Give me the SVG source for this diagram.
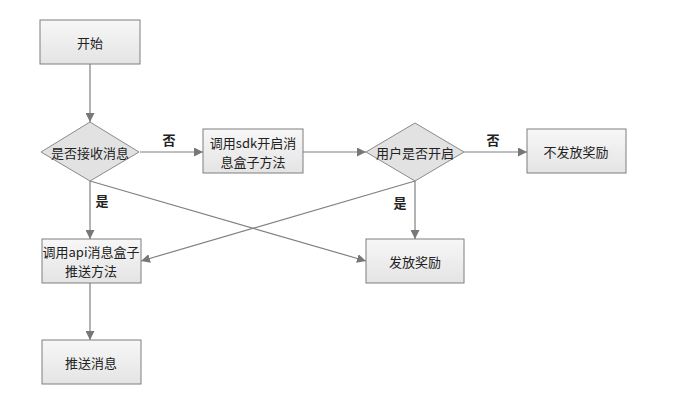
<svg xmlns="http://www.w3.org/2000/svg" width="700" height="409" viewBox="0 0 700 409">
<defs>
<linearGradient id="g" x1="0" y1="0" x2="0" y2="1"><stop offset="0" stop-color="#f7f7f7"/><stop offset="1" stop-color="#e4e4e4"/></linearGradient>
<marker id="a" viewBox="0 0 10 10" refX="10" refY="5" markerWidth="9" markerHeight="9" markerUnits="userSpaceOnUse" orient="auto"><path d="M0,0 L10,5 L0,10 Z" fill="#777"/></marker>
<style>
.box{fill:url(#g);stroke:#7f7f7f;stroke-width:1}
.dia{fill:#e2e2e2;stroke:#8a8a8a;stroke-width:1}
.t{font-family:"Noto Sans CJK SC","Liberation Sans",sans-serif;font-size:13px;fill:#222;text-anchor:middle;dominant-baseline:central}
.l{font-family:"Noto Sans CJK SC","Liberation Sans",sans-serif;font-size:13px;font-weight:bold;fill:#222;text-anchor:middle;dominant-baseline:central}
.c{stroke:#808080;stroke-width:1.2;fill:none;marker-end:url(#a)}
</style>
</defs>
<rect width="700" height="409" fill="#fff"/>
<g id="connectors">
<line class="c" x1="90" y1="64" x2="90" y2="122"/>
<line class="c" x1="140" y1="152" x2="203" y2="152"/>
<line class="c" x1="303" y1="152" x2="366" y2="152"/>
<line class="c" x1="464" y1="152" x2="527" y2="152"/>
<line class="c" x1="90" y1="181" x2="90" y2="239"/>
<line class="c" x1="90" y1="181" x2="366" y2="261"/>
<line class="c" x1="415" y1="181" x2="141" y2="261"/>
<line class="c" x1="415" y1="181" x2="415" y2="239"/>
<line class="c" x1="90" y1="283" x2="90" y2="340"/>
<text class="l" x="169" y="139">否</text>
<text class="l" x="493" y="139">否</text>
<text class="l" x="102" y="200">是</text>
<text class="l" x="400" y="202">是</text>
</g>
<g id="start"><rect class="box" x="40" y="20" width="100" height="44"/><text class="t" x="90" y="42">开始</text></g>
<g id="d1"><polygon class="dia" points="90,122 139,152 90,181 41,152"/><text class="t" x="90" y="152">是否接收消息</text></g>
<g id="sdk"><rect class="box" x="203" y="129" width="100" height="44"/><text class="t" x="253" y="142">调用sdk开启消</text><text class="t" x="253" y="161">息盒子方法</text></g>
<g id="d2"><polygon class="dia" points="415,123 464,152 415,181 366,152"/><text class="t" x="415" y="152">用户是否开启</text></g>
<g id="noreward"><rect class="box" x="527" y="129" width="99" height="44"/><text class="t" x="576" y="151">不发放奖励</text></g>
<g id="api"><rect class="box" x="42" y="239" width="99" height="44"/><text class="t" x="91" y="251">调用api消息盒子</text><text class="t" x="91" y="270">推送方法</text></g>
<g id="reward"><rect class="box" x="366" y="239" width="98" height="44"/><text class="t" x="415" y="261">发放奖励</text></g>
<g id="push"><rect class="box" x="42" y="340" width="99" height="44"/><text class="t" x="91" y="362">推送消息</text></g>
</svg>
